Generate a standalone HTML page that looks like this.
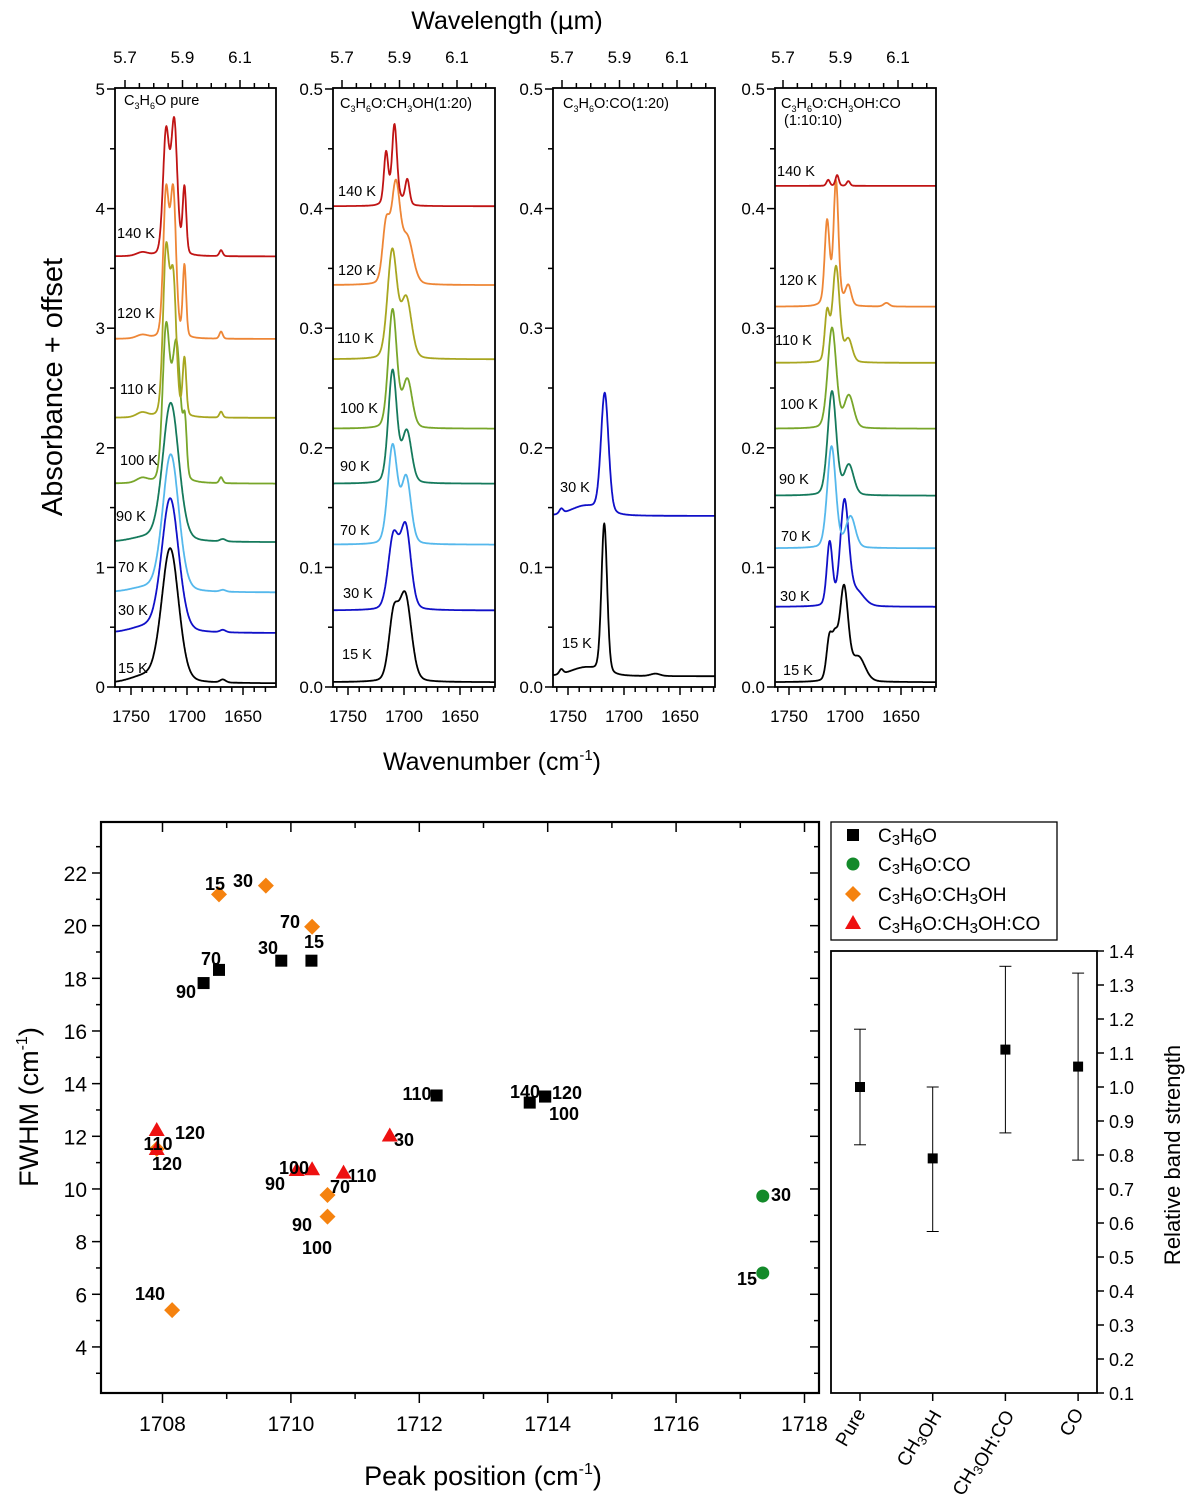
<!DOCTYPE html>
<html><head><meta charset="utf-8"><title>C3H6O spectra and FWHM</title>
<style>
html,body{margin:0;padding:0;background:#fff;}
svg{display:block;font-family:"Liberation Sans",Arial,sans-serif;}
</style></head>
<body>
<svg id="fig" width="1200" height="1506" viewBox="0 0 1200 1506" xmlns="http://www.w3.org/2000/svg">
<defs>
<clipPath id="c0"><rect x="115" y="88" width="161" height="599"/></clipPath>
<clipPath id="c1"><rect x="333" y="88" width="162" height="599"/></clipPath>
<clipPath id="c2"><rect x="553" y="88" width="162" height="599"/></clipPath>
<clipPath id="c3"><rect x="775" y="88" width="161" height="599"/></clipPath>
</defs>
<g id="topg"></g>
<g id="bot"></g>
<g id="rp"></g>
</svg>
<script>
// ===== Spectra data =====
const temps1 = ["15 K","30 K","70 K","90 K","100 K","110 K","120 K","140 K"];
const base1 = [0.03,0.45,0.79,1.21,1.70,2.25,2.91,3.60];
const peaks1 = [
 [[1715,1.12,18],[1738,0.05,30],[1668,0.025,6]],
 [[1715,1.12,18],[1738,0.04,30],[1668,0.02,6]],
 [[1714.5,1.15,17],[1738,0.03,30],[1668,0.015,6]],
 [[1714.5,1.16,17],[1738,0.03,30],[1668,0.02,6]],
 [[1718.7,1.25,7.5],[1709.5,1.15,9],[1701.8,0.4,3.8],[1669.6,0.05,3.5],[1740,0.04,12]],
 [[1718.7,1.35,6.5],[1712.3,1.12,6.5],[1702.3,0.48,3.8],[1669.6,0.05,3.5],[1740,0.04,12]],
 [[1718.7,1.2,6],[1712.3,1.2,6],[1702.3,0.6,3.6],[1669.6,0.06,3.5],[1740,0.03,12]],
 [[1718.7,1.02,6.5],[1711.4,1.1,6.5],[1702.3,0.56,3.8],[1669.6,0.05,3.5],[1740,0.03,12]]
];
const temps2 = ["15 K","30 K","70 K","90 K","100 K","110 K","120 K","140 K"];
const base2 = [0.004,0.064,0.119,0.170,0.216,0.274,0.336,0.402];
const peaks2 = [
 [[1709.5,0.05,10],[1699,0.072,13]],
 [[1709.5,0.06,11],[1698.5,0.068,11]],
 [[1710.2,0.082,10],[1698,0.055,10]],
 [[1710.2,0.094,9],[1697.5,0.043,10]],
 [[1710.2,0.099,9],[1697,0.04,10]],
 [[1710.5,0.09,10],[1698,0.05,11]],
 [[1716,0.048,7.5],[1707.4,0.08,9],[1697,0.038,12]],
 [[1716,0.041,4.5],[1708.5,0.06,5],[1697,0.02,4.5],[1708,0.008,16]]
];
const temps3 = ["15 K","30 K"];
const base3 = [0.009,0.143];
const peaks3 = [
 [[1717.6,0.125,6],[1735,0.007,30],[1756,0.004,4],[1672,0.002,10]],
 [[1717.2,0.1,8],[1735,0.008,30],[1756,0.004,4]]
];
const temps4 = ["15 K","30 K","70 K","90 K","100 K","110 K","120 K","140 K"];
const base4 = [0.004,0.067,0.116,0.160,0.216,0.271,0.318,0.419];
const peaks4 = [
 [[1714,0.034,6],[1709,0.028,6],[1701,0.078,9],[1688,0.02,14]],
 [[1713.7,0.053,6],[1700.5,0.086,9],[1690,0.012,16]],
 [[1712,0.085,9],[1695,0.026,10]],
 [[1711.6,0.087,9],[1696.5,0.025,10]],
 [[1711.6,0.084,9],[1696.5,0.027,10]],
 [[1716,0.04,5],[1708,0.08,7.5],[1697,0.019,8]],
 [[1716,0.065,5],[1708,0.095,5],[1697,0.016,6],[1663,0.003,6],[1710,0.01,15]],
 [[1715,0.005,3.5],[1707,0.009,3.5],[1697,0.004,3.5]]
];
const wnTicks = [1750,1700,1650];
const umTicks = [5.7,5.9,6.1];
const yTicks1 = [0,1,2,3,4,5];
const yTicks2 = [0.0,0.1,0.2,0.3,0.4,0.5];

// ===== Scatter data =====
const c3h6oX = [1710.32,1709.85,1708.88,1708.64,1712.27,1713.72,1713.96,1713.96];
const c3h6oY = [18.67,18.67,18.32,17.82,13.55,13.28,13.51,13.51];
const coX = [1717.35,1717.35];
const coY = [9.73,6.81];
const meohX = [1708.88,1709.61,1710.33,1710.57,1710.57,1707.91,1708.15];
const meohY = [21.19,21.52,19.96,9.77,8.95,11.52,5.40];
const mixX = [1707.91,1707.91,1710.09,1710.33,1710.82,1711.54];
const mixY = [12.24,11.52,10.72,10.75,10.62,12.03];
const scXTicks = [1708,1710,1712,1714,1716,1718];
const scYTicks = [4,6,8,10,12,14,16,18,20,22];
const pointLabels = [["15",215,883],["30",243,880],["70",290,921],["15",314,941],["30",268,947],["70",211,958],["90",186,991],["110",417,1093],["140",525,1091],["120",567,1092],["100",564,1113],["120",190,1132],["110",158,1143],["120",167,1163],["30",404,1139],["100",294,1167],["90",275,1183],["110",362,1175],["70",340,1186],["90",302,1224],["100",317,1247],["140",150,1293],["30",781,1194],["15",747,1278]];

// ===== Band strength data =====
const bsCats = ["Pure","CH3OH","CH3OH:CO","CO"];
const bsVals = [1.0,0.79,1.11,1.06];
const bsLow = [0.83,0.575,0.865,0.785];
const bsHigh = [1.17,1.0,1.355,1.335];
const bsTicks = [0.1,0.2,0.3,0.4,0.5,0.6,0.7,0.8,0.9,1.0,1.1,1.2,1.3,1.4];

const NS="http://www.w3.org/2000/svg";
function mk(tag, attrs, parent){const e=document.createElementNS(NS,tag);for(const k in attrs)e.setAttribute(k,attrs[k]);if(parent)parent.appendChild(e);return e;}
const colors={"15 K":"#000000","30 K":"#1010c8","70 K":"#55b8ec","90 K":"#157a5c","100 K":"#78a62a","110 K":"#a8a620","120 K":"#ee8636","140 K":"#c01414"};

const topG=document.getElementById('topg');
const panels=[
 {x0:115,x1:276,ref:131,clip:"c0",yscale:119.6,temps:temps1,base:base1,peaks:peaks1,yt:yTicks1,fmt:v=>String(v),name:"pure",
  labels:[[118,668],[118,610],[118,567],[116,516],[120,460],[120,389],[117,313],[117,233]]},
 {x0:333,x1:495,ref:348,clip:"c1",yscale:1196,temps:temps2,base:base2,peaks:peaks2,yt:yTicks2,fmt:v=>v.toFixed(1),name:"methanol",
  labels:[[342,654],[343,593],[340,530],[340,466],[340,408],[337,338],[338,270],[338,191]]},
 {x0:553,x1:715,ref:568,clip:"c2",yscale:1196,temps:temps3,base:base3,peaks:peaks3,yt:yTicks2,fmt:v=>v.toFixed(1),name:"co",
  labels:[[562,643],[560,487]]},
 {x0:775,x1:936,ref:789,clip:"c3",yscale:1196,temps:temps4,base:base4,peaks:peaks4,yt:yTicks2,fmt:v=>v.toFixed(1),name:"methanol-co",
  labels:[[783,670],[780,596],[781,536],[779,479],[780,404],[775,340],[779,280],[777,171]]}
];
const Y0=687, YT=88, PX=1.12;
function prof(w,p){const d=(w-p[0])/p[2];const g=Math.exp(-4*Math.LN2*d*d);const l=1/(1+4*d*d);return p[1]*(0.8*g+0.2*l);}

panels.forEach((P,pi)=>{
  const g=mk('g',{},topG);
  
  
  const xs=w=>P.ref+(1750-w)*PX;
  const ys=v=>Y0-v*P.yscale;
  const xum=u=>P.ref-6+(u-5.7)*287.5;
  const cg=mk('g',{'clip-path':'url(#'+P.clip+')'},g);
  P.temps.forEach((t,i)=>{
    let d='';
    for(let w=1770;w>=1615;w-=0.4){
      let v=P.base[i];
      P.peaks[i].forEach(p=>{v+=prof(w,p);});
      d+=(d?'L':'M')+xs(w).toFixed(1)+' '+ys(v).toFixed(1);
    }
    const path=mk('path',{d:d,fill:'none',stroke:colors[t],'stroke-width':1.8,'stroke-linejoin':'round'},cg);
    
    
    const lb=mk('text',{x:P.labels[i][0],y:P.labels[i][1]+5,'font-size':14.5,fill:'#000'},g);
    lb.textContent=t;
    
    
  });
  const fr=mk('rect',{x:P.x0,y:YT,width:P.x1-P.x0,height:Y0-YT,fill:'none',stroke:'#000','stroke-width':1.8},g);
  
  
  for(let w=1760;w>=1620;w-=10){
    const x=xs(w); if(x<P.x0||x>P.x1)continue;
    const major=wnTicks.includes(w);
    mk('line',{x1:x,x2:x,y1:Y0,y2:Y0+(major?8:5),stroke:'#000','stroke-width':1.5},g);
    if(major){const t=mk('text',{x:x,y:Y0+35,'font-size':17,'text-anchor':'middle'},g);t.textContent=w;
      
      }
  }
  for(let k=0;k<=12;k++){
    const um=5.65+k*0.05; const x=xum(um);
    if(x<P.x0||x>P.x1)continue;
    const major=umTicks.some(u=>Math.abs(u-um)<1e-6);
    mk('line',{x1:x,x2:x,y1:YT,y2:YT-(major?8:5),stroke:'#000','stroke-width':1.5},g);
    if(major){const t=mk('text',{x:x,y:YT-25,'font-size':17,'text-anchor':'middle'},g);t.textContent=um.toFixed(1);
      
      }
  }
  const yt=P.yt, step=(yt[1]-yt[0])/2;
  for(let v=yt[0];v<=yt[yt.length-1]+1e-9;v+=step){
    const y=ys(v); const major=yt.some(q=>Math.abs(q-v)<1e-9);
    mk('line',{x1:P.x0,x2:P.x0-(major?8:5),y1:y,y2:y,stroke:'#000','stroke-width':1.5},g);
    if(major){const t=mk('text',{x:P.x0-10,y:y+6,'font-size':17,'text-anchor':'end'},g);t.textContent=P.fmt(v);
      
      }
  }
});
function addHTML(parent, s){const tmp=document.createElementNS(NS,'g');tmp.innerHTML=s;while(tmp.firstChild)parent.appendChild(tmp.firstChild);}
addHTML(topG,`
<text x="124" y="105" font-size="14.5">C<tspan font-size="9" dy="4">3</tspan><tspan dy="-4">H</tspan><tspan font-size="9" dy="4">6</tspan><tspan dy="-4">O pure</tspan></text>
<text x="340" y="108" font-size="14.5">C<tspan font-size="9" dy="4">3</tspan><tspan dy="-4">H</tspan><tspan font-size="9" dy="4">6</tspan><tspan dy="-4">O:CH</tspan><tspan font-size="9" dy="4">3</tspan><tspan dy="-4">OH(1:20)</tspan></text>
<text x="563" y="108" font-size="14.5">C<tspan font-size="9" dy="4">3</tspan><tspan dy="-4">H</tspan><tspan font-size="9" dy="4">6</tspan><tspan dy="-4">O:CO(1:20)</tspan></text>
<text x="781" y="108" font-size="14.5">C<tspan font-size="9" dy="4">3</tspan><tspan dy="-4">H</tspan><tspan font-size="9" dy="4">6</tspan><tspan dy="-4">O:CH</tspan><tspan font-size="9" dy="4">3</tspan><tspan dy="-4">OH:CO</tspan></text>
<text x="784" y="125" font-size="14.5">(1:10:10)</text>
<text x="507" y="29" font-size="25" text-anchor="middle">Wavelength (<tspan font-family="DejaVu Sans">μ</tspan>m)</text>
<text x="492" y="770" font-size="25" text-anchor="middle">Wavenumber (cm<tspan font-size="15" dy="-10">-1</tspan><tspan dy="10">)</tspan></text>
<text transform="translate(62,387) rotate(-90)" font-size="29" text-anchor="middle">Absorbance + offset</text>
`);

// ===== Scatter =====
const bot=document.getElementById('bot');
const SX0=101,SX1=819,SY0=822,SY1=1393;
const sx=v=>162.5+(v-1708)*64.2;
const sy=v=>873+(22-v)*26.33;
const sfr=mk('rect',{x:SX0,y:SY0,width:SX1-SX0,height:SY1-SY0,fill:'none',stroke:'#000','stroke-width':2.2},bot);


for(let v=1707;v<=1718;v+=1){
  const x=sx(v); if(x<SX0||x>SX1)continue; const major=scXTicks.includes(v);
  mk('line',{x1:x,x2:x,y1:SY1,y2:SY1+(major?10:6),stroke:'#000','stroke-width':1.5},bot);
  mk('line',{x1:x,x2:x,y1:SY0,y2:SY0+(major?10:6),stroke:'#000','stroke-width':1.5},bot);
  if(major){const t=mk('text',{x:x,y:SY1+38,'font-size':21,'text-anchor':'middle'},bot);t.textContent=v;
    
    }
}
for(let v=3;v<=23;v+=1){
  const y=sy(v); if(y<SY0||y>SY1)continue; const major=scYTicks.includes(v);
  mk('line',{x1:SX0,x2:SX0-(major?9:5),y1:y,y2:y,stroke:'#000','stroke-width':1.5},bot);
  mk('line',{x1:SX1,x2:SX1-(major?9:5),y1:y,y2:y,stroke:'#000','stroke-width':1.5},bot);
  if(major){const t=mk('text',{x:SX0-14,y:y+8,'font-size':21,'text-anchor':'end'},bot);t.textContent=v;
    
    }
}
function square(x,y,c){return mk('rect',{x:x-6,y:y-6,width:12,height:12,fill:c},bot);}
function circle(x,y,c){return mk('circle',{cx:x,cy:y,r:6.5,fill:c},bot);}
function diamond(x,y,c){return mk('path',{d:`M${x} ${y-8}L${x+8} ${y}L${x} ${y+8}L${x-8} ${y}Z`,fill:c},bot);}
function tri(x,y,c){return mk('path',{d:`M${x} ${y-8}L${x+8} ${y+6}L${x-8} ${y+6}Z`,fill:c},bot);}
meohX.forEach((v,i)=>{const e=diamond(sx(v),sy(meohY[i]),'#f5820f');
  
  });
mixX.forEach((v,i)=>{const e=tri(sx(v),sy(mixY[i]),'#ee1111');
  
  });
c3h6oX.forEach((v,i)=>{const e=square(sx(v),sy(c3h6oY[i]),'#000');
  
  });
coX.forEach((v,i)=>{const e=circle(sx(v),sy(coY[i]),'#138a2a');
  
  });
pointLabels.forEach(l=>{const t=mk('text',{x:l[1],y:l[2]+7,'font-size':18,'font-weight':'bold','text-anchor':'middle'},bot);t.textContent=l[0];
  
  });
addHTML(bot,`
<text x="483" y="1485" font-size="27" text-anchor="middle">Peak position (cm<tspan font-size="16" dy="-11">-1</tspan><tspan dy="11">)</tspan></text>
<text transform="translate(38,1107) rotate(-90)" font-size="27" text-anchor="middle">FWHM (cm<tspan font-size="16" dy="-11">-1</tspan><tspan dy="11">)</tspan></text>
<g>
<rect x="831" y="822" width="226" height="118" fill="#fff" stroke="#000" stroke-width="1.3"/>
<rect x="847" y="829" width="12" height="12" fill="#000"/>
<text x="878" y="842" font-size="19">C<tspan font-size="15" dy="3">3</tspan><tspan dy="-3">H</tspan><tspan font-size="15" dy="3">6</tspan><tspan dy="-3">O</tspan></text>
<circle cx="853" cy="864" r="6.5" fill="#138a2a"/>
<text x="878" y="871" font-size="19">C<tspan font-size="15" dy="3">3</tspan><tspan dy="-3">H</tspan><tspan font-size="15" dy="3">6</tspan><tspan dy="-3">O:CO</tspan></text>
<path d="M853 886L861 894L853 902L845 894Z" fill="#f5820f"/>
<text x="878" y="901" font-size="19">C<tspan font-size="15" dy="3">3</tspan><tspan dy="-3">H</tspan><tspan font-size="15" dy="3">6</tspan><tspan dy="-3">O:CH</tspan><tspan font-size="15" dy="3">3</tspan><tspan dy="-3">OH</tspan></text>
<path d="M853 915L861 929L845 929Z" fill="#ee1111"/>
<text x="878" y="930" font-size="19">C<tspan font-size="15" dy="3">3</tspan><tspan dy="-3">H</tspan><tspan font-size="15" dy="3">6</tspan><tspan dy="-3">O:CH</tspan><tspan font-size="15" dy="3">3</tspan><tspan dy="-3">OH:CO</tspan></text>
</g>`);

// ===== Band strength panel =====
const rp=document.getElementById('rp');
const RX0=831,RX1=1097,RY0=951,RY1=1393;
const ry=v=>1393-(v-0.1)*340;
const rx=i=>860+i*72.7;
const rfr=mk('rect',{x:RX0,y:RY0,width:RX1-RX0,height:RY1-RY0,fill:'none',stroke:'#000','stroke-width':1.8},rp);


bsTicks.forEach(v=>{const y=ry(v);
  mk('line',{x1:RX1,x2:RX1+7,y1:y,y2:y,stroke:'#000','stroke-width':1.5},rp);
  const t=mk('text',{x:RX1+12,y:y+7,'font-size':18},rp);t.textContent=v.toFixed(1);
  
  });
bsCats.forEach((c,i)=>{const x=rx(i);
  mk('line',{x1:x,x2:x,y1:RY1,y2:RY1+8,stroke:'#000','stroke-width':1.5},rp);
  const eb=mk('g',{},rp);
  
  
  mk('line',{x1:x,x2:x,y1:ry(bsLow[i]),y2:ry(bsHigh[i]),stroke:'#000','stroke-width':1},eb);
  mk('line',{x1:x-6,x2:x+6,y1:ry(bsLow[i]),y2:ry(bsLow[i]),stroke:'#000','stroke-width':1},eb);
  mk('line',{x1:x-6,x2:x+6,y1:ry(bsHigh[i]),y2:ry(bsHigh[i]),stroke:'#000','stroke-width':1},eb);
  const m=mk('rect',{x:x-5,y:ry(bsVals[i])-5,width:10,height:10,fill:'#000'},rp);
  
  
  const t=mk('text',{transform:`translate(${x+6},${RY1+20}) rotate(-60)`,'font-size':19,'text-anchor':'end'},rp);
  t.innerHTML=c.replace(/3/g,'<tspan font-size="13" dy="4">3</tspan><tspan dy="-4"></tspan>');
  
  
});
addHTML(rp,`<text transform="translate(1180,1155) rotate(-90)" font-size="22" text-anchor="middle">Relative band strength</text>`);
</script>
</body></html>
